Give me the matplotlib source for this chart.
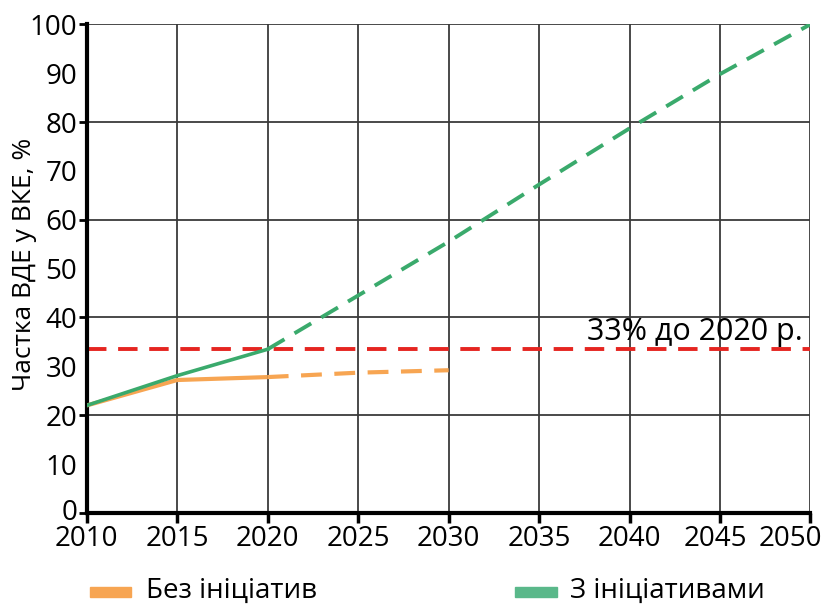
import matplotlib
matplotlib.use('Agg')
import matplotlib.pyplot as plt
import matplotlib.transforms as mtrans
from matplotlib.ticker import FixedLocator, FixedFormatter

plt.rcParams['font.family'] = ['Open Sans', 'DejaVu Sans']

# дані
roky = [2010, 2015, 2020, 2025, 2030, 2035, 2040, 2045, 2050]
bez_fakt = [22.0, 27.2, 27.8]          # 2010-2020 суцільна
bez_prognoz = [27.8, 28.7, 29.2]       # 2020-2030 пунктир
z_fakt = [22.0, 28.1, 33.5]            # 2010-2020 суцільна
z_prognoz = [33.5, 44.5, 55.5, 67.2, 78.7, 89.8, 100.0]  # 2020-2050 пунктир
ciel = 33.5
mitky_y = [0, 10, 20, 30, 40, 50, 60, 70, 80, 90, 100]

kol_bez = '#f7a552'
kol_z = '#3aaa6c'
kol_ciel = '#e52520'

fig = plt.figure(figsize=(8.27, 6.07), dpi=100)
ax = fig.add_axes([0.105, 0.155, 0.875, 0.805])

# сітка
for y in [20, 40, 60, 80, 100]:
    ax.axhline(y, color='#3a3a3a', lw=1.3, zorder=1)
for x in roky[1:]:
    ax.axvline(x, color='#3a3a3a', lw=1.3, zorder=1)

ax.plot(roky[:3], bez_fakt, color=kol_bez, lw=3, solid_capstyle='butt', zorder=3)
ax.plot(roky[2:5], bez_prognoz, color=kol_bez, lw=3, ls=(0, (5, 3)), zorder=3)
ax.plot(roky[:3], z_fakt, color=kol_z, lw=2.6, zorder=4)
ax.plot(roky[2:], z_prognoz, color=kol_z, lw=2.8, ls=(0, (5, 3)), zorder=4)
ax.axhline(ciel, color=kol_ciel, lw=2.8, ls=(0, (5, 3)), zorder=2)

ax.text(2049.6, ciel + 0.5, '33% до 2020 р.', fontsize=22, ha='right', va='bottom', zorder=5)

ax.set_xlim(2010, 2050)
ax.set_ylim(0, 100)
ax.set_xticks(roky)
ax.set_xticklabels([str(r) for r in roky])

# мітки по осі y: риски лише на парних
ax.yaxis.set_major_locator(FixedLocator([0, 20, 40, 60, 80, 100]))
ax.yaxis.set_minor_locator(FixedLocator([10, 30, 50, 70, 90]))
ax.yaxis.set_major_formatter(FixedFormatter([str(v) for v in mitky_y[::2]]))
ax.yaxis.set_minor_formatter(FixedFormatter([str(v) for v in mitky_y[1::2]]))
ax.tick_params(axis='y', which='major', length=6, width=2, labelsize=20, pad=1)
ax.tick_params(axis='y', which='minor', length=0, labelsize=20, pad=7)
ax.tick_params(axis='x', length=7, width=2.5, labelsize=20, pad=2)

# останню мітку 2050 трохи вліво, як на оригіналі
posun = mtrans.ScaledTranslation(-20 / 100, 0, fig.dpi_scale_trans)
ax.get_xticklabels()[-1].set_transform(ax.get_xticklabels()[-1].get_transform() + posun)
posun2 = mtrans.ScaledTranslation(-5 / 100, 0, fig.dpi_scale_trans)
ax.get_xticklabels()[-2].set_transform(ax.get_xticklabels()[-2].get_transform() + posun2)
# нуль трохи вгору, щоб не налазив на 2010
posun0 = mtrans.ScaledTranslation(0, 3 / 100, fig.dpi_scale_trans)
ax.get_yticklabels()[0].set_transform(ax.get_yticklabels()[0].get_transform() + posun0)

for s in ['top', 'right']:
    ax.spines[s].set_visible(False)
ax.spines['left'].set_linewidth(3)
ax.spines['bottom'].set_linewidth(3)

# підпис осі y
fig.text(0.030, 0.565, 'Частка ВДЕ у ВКЕ, %', fontsize=19, rotation=90, ha='center', va='center')

# легенда
fig.patches.append(plt.Rectangle((0.109, 0.017), 0.049, 0.016, transform=fig.transFigure, color=kol_bez))
fig.text(0.176, 0.026, 'Без ініціатив', fontsize=20, va='center')
fig.patches.append(plt.Rectangle((0.623, 0.017), 0.050, 0.016, transform=fig.transFigure, color='#5ab88a'))
fig.text(0.689, 0.026, 'З ініціативами', fontsize=20, va='center')

fig.savefig('out.png', dpi=100)
